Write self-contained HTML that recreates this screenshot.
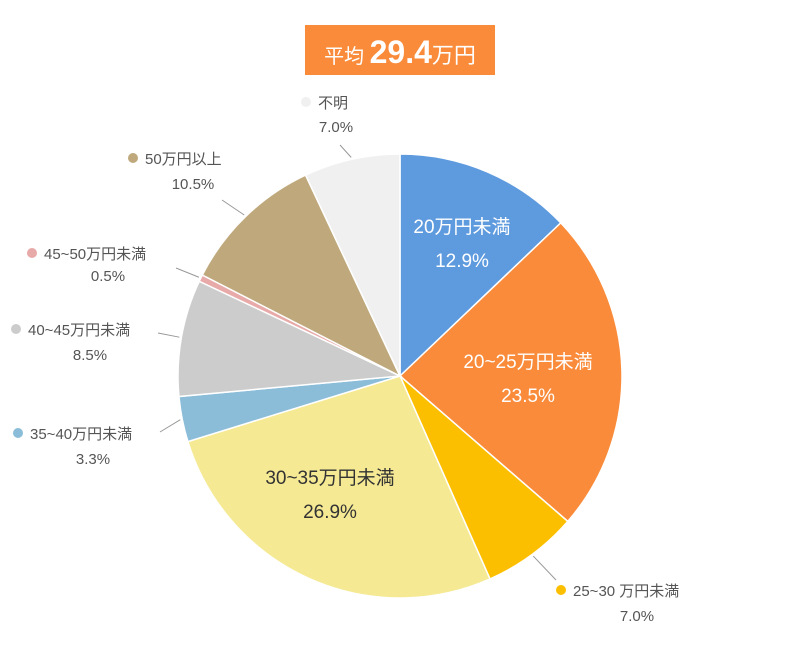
<!DOCTYPE html>
<html><head><meta charset="utf-8">
<style>
html,body{margin:0;padding:0;background:#fff;}
svg{display:block;font-family:"Liberation Sans","Noto Sans CJK JP",sans-serif;}
</style></head>
<body>
<svg id="chart" width="800" height="647" viewBox="0 0 800 647">
  <rect x="305" y="25" width="190" height="50" fill="#f98b3a"/>
  <text x="400" y="63" text-anchor="middle" fill="#fff"><tspan font-size="20">平均 </tspan><tspan font-size="32" font-weight="bold">29.4</tspan><tspan font-size="22">万円</tspan></text>
  <g id="slices"></g>
  <g id="labels"></g>
</svg>
<script>
const categories = ["20万円未満","20~25万円未満","25~30 万円未満","30~35万円未満","35~40万円未満","40~45万円未満","45~50万円未満","50万円以上","不明"];
const values = [12.9, 23.5, 7.0, 26.9, 3.3, 8.5, 0.5, 10.5, 7.0];
const valueLabels = ["12.9%","23.5%","7.0%","26.9%","3.3%","8.5%","0.5%","10.5%","7.0%"];
const colors = ["#5e9ade","#f98b3a","#fcbf00","#f5e994","#8bbdd9","#cccccc","#e8a9a9","#bfa97c","#f0f0f0"];
// label layout (not data)
const inside = [true,true,false,true,false,false,false,false,false];
const labelPos = [[462,233],[528,368],[573,596],[330,484],[30,439],[28,335],[44,259],[145,164],[318,108]];
const valuePos = [[462,267],[528,402],[637,621],[330,518],[93,464],[90,360],[108,281],[193,189],[336,132]];
const lineEnd = [null,null,[556,580],null,[160,432],[158,333],[176,268],[222,200],[340,145]];
const textColors = ["#fff","#fff","#555","#333","#555","#555","#555","#555","#555"];
const dotColors = [null,null,"#fcbf00",null,"#8bbdd9","#cccccc","#e8a9a9","#bfa97c","#f0f0f0"];

const cx = 400, cy = 376, R = 222;
const NS = "http://www.w3.org/2000/svg";
const total = values.reduce((a,b)=>a+b,0);
function angleOf(v){ return v/total*2*Math.PI; }
function pt(a,r){ return [cx + r*Math.sin(a), cy - r*Math.cos(a)]; }
const gS = document.getElementById("slices");
const gL = document.getElementById("labels");
let acc = 0;
values.forEach((v,i)=>{
  const a0 = angleOf(acc), a1 = angleOf(acc+v); acc += v;
  const p0 = pt(a0,R), p1 = pt(a1,R);
  const large = (a1-a0) > Math.PI ? 1 : 0;
  const path = document.createElementNS(NS,"path");
  path.setAttribute("d",`M${cx},${cy} L${p0[0]},${p0[1]} A${R},${R} 0 ${large} 1 ${p1[0]},${p1[1]} Z`);
  path.setAttribute("fill",colors[i]);
  path.setAttribute("stroke","#fff");
  path.setAttribute("stroke-width","1.5");
  
  
  gS.appendChild(path);
  const mid = (a0+a1)/2;
  if (!inside[i]) {
    const s = pt(mid, R+2);
    const ln = document.createElementNS(NS,"line");
    ln.setAttribute("x1",s[0]); ln.setAttribute("y1",s[1]);
    ln.setAttribute("x2",lineEnd[i][0]); ln.setAttribute("y2",lineEnd[i][1]);
    ln.setAttribute("stroke","#999"); ln.setAttribute("stroke-width","1");
    
    
    gL.appendChild(ln);
    const dot = document.createElementNS(NS,"circle");
    dot.setAttribute("cx",labelPos[i][0]-12); dot.setAttribute("cy",labelPos[i][1]-6);
    dot.setAttribute("r","5"); dot.setAttribute("fill",dotColors[i]);
    
    
    gL.appendChild(dot);
  }
  const t1 = document.createElementNS(NS,"text");
  t1.textContent = categories[i];
  t1.setAttribute("x",labelPos[i][0]); t1.setAttribute("y",labelPos[i][1]);
  t1.setAttribute("font-size", inside[i] ? "19" : "15");
  t1.setAttribute("fill",textColors[i]);
  t1.setAttribute("text-anchor", inside[i] ? "middle" : "start");
  
  
  gL.appendChild(t1);
  const t2 = document.createElementNS(NS,"text");
  t2.textContent = valueLabels[i];
  t2.setAttribute("x",valuePos[i][0]); t2.setAttribute("y",valuePos[i][1]);
  t2.setAttribute("font-size", inside[i] ? "19" : "15");
  t2.setAttribute("fill",textColors[i]);
  t2.setAttribute("text-anchor","middle");
  
  
  gL.appendChild(t2);
});
</script>
</body></html>
